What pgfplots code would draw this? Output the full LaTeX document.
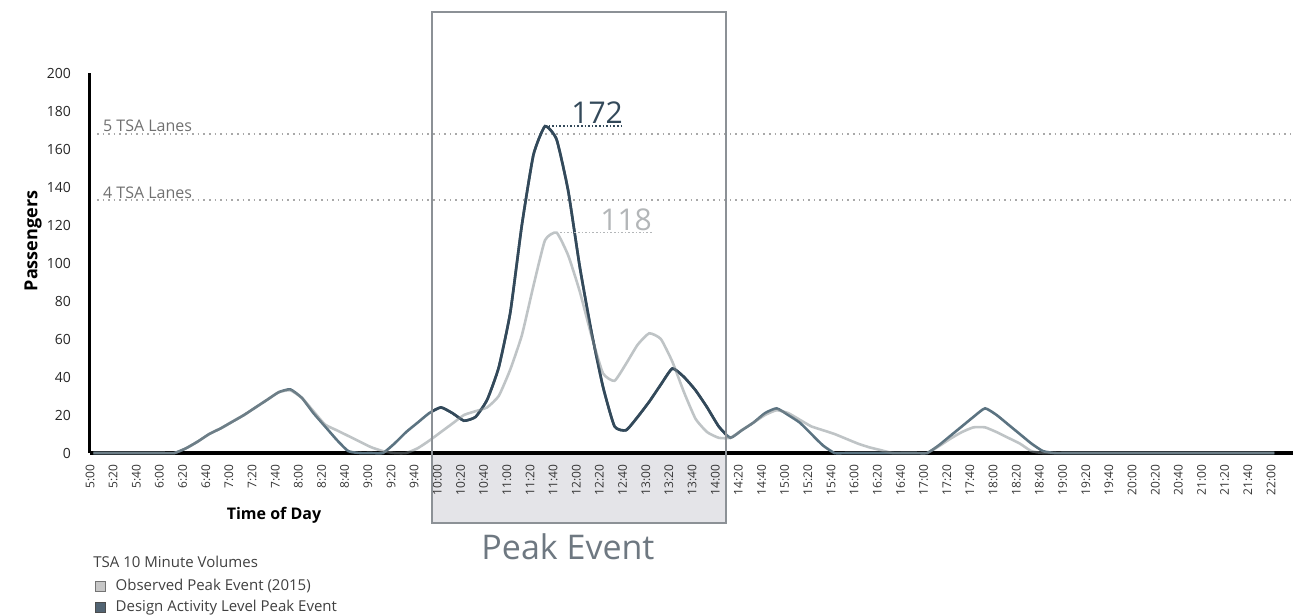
\documentclass[border=0pt]{standalone}
\usepackage{pgfplots}
\usepackage{pgfplotstable}
\pgfplotsset{compat=1.18}
\usepackage{fontspec}
\setmainfont{Open Sans}
\definecolor{darkser}{HTML}{33495A}
\definecolor{darkout}{HTML}{5B7381}
\definecolor{lightser}{HTML}{7F898E}
\definecolor{boxgray}{HTML}{8C9196}
\definecolor{peakfill}{HTML}{E4E4E8}
\definecolor{annlight}{HTML}{B3B6B8}
\definecolor{lanegray}{HTML}{707070}
\definecolor{peaktext}{HTML}{6E7881}

\pgfplotstableread{
i obs des
0 0 0
1 0 0
2 0 0
3 0 0
4 0 0
5 0 0
6 0 0
7 0 0
8 2.5 2.5
9 6 6
10 10 10
11 13 13
12 16.5 16.5
13 20 20
14 24 24
15 28 28
16 32 32
17 33 33.5
18 29 29
19 22 21
20 15 14
21 12 7
22 9 1
23 6 0
24 3 0
25 1 0
26 0 5
27 0 11
28 2.5 16
29 6.5 21
30 11 24
31 15.5 21
32 20 17
33 22 19
34 24 28
35 30 45
36 44 74
37 62 120
38 88 157
39 112 172
40 116 165
41 104 138
42 85 98
43 62 64
44 42 35
45 38 14
46 47 12
47 57 19
48 63 27
49 60 36
50 48 44.5
51 32 40
52 18 33
53 11 24
54 8 14
55 8 8
56 12 12
57 16 16
58 20 21
59 22.5 23.5
60 21 20
61 17.5 16
62 14 10
63 12 4
64 10 0
65 7.5 0
66 5 0
67 3 0
68 1.5 0
69 0 0
70 0 0
71 0 0
72 0 0
73 3.5 4
74 7.5 9
75 11 14
76 13.5 19
77 13.5 23.5
78 11 20
79 8 15
80 5 10
81 1 5
82 0 1
83 0 0
84 0 0
85 0 0
86 0 0
87 0 0
88 0 0
89 0 0
90 0 0
91 0 0
92 0 0
93 0 0
94 0 0
95 0 0
96 0 0
97 0 0
98 0 0
99 0 0
100 0 0
101 0 0
102 0 0
}\volumes

\begin{document}
\begin{tikzpicture}[x=1pt,y=1pt]
\path[use as bounding box] (-45,-81) rectangle (601.5,226.5);
\fill[peakfill] (171,-35) rectangle (318,-1);
\begin{axis}[
  at={(0,0)}, anchor=south west,
  scale only axis, width=601.5pt, height=190pt,
  xmin=-0.3, xmax=103.6, ymin=0, ymax=200,
  clip=false,
  axis x line*=bottom, axis y line*=left,
  x axis line style={line width=2pt, black, -},
  y axis line style={line width=1.5pt, black, -},
  major tick length=0pt,
  tick style={draw=none},
  ytick={0,20,...,200},
  xtick={-0.3,1.7,...,101.7},
  xticklabels={5:00,5:20,5:40,6:00,6:20,6:40,7:00,7:20,7:40,8:00,8:20,8:40,9:00,9:20,9:40,10:00,10:20,10:40,11:00,11:20,11:40,12:00,12:20,12:40,13:00,13:20,13:40,14:00,14:20,14:40,15:00,15:20,15:40,16:00,16:20,16:40,17:00,17:20,17:40,18:00,18:20,18:40,19:00,19:20,19:40,20:00,20:20,20:40,21:00,21:20,21:40,22:00},
  xticklabel style={rotate=90, anchor=east, font=\fontsize{6}{7}\selectfont, text=black!80},
  xticklabel shift=2.5pt,
  yticklabel style={font=\fontsize{7}{8}\selectfont, text=black!85},
  yticklabel shift=6pt,
  /pgf/number format/assume math mode=true,
  legend style={at={(0.004,-0.325)}, anchor=north west, draw=none, fill=none,
    font=\fontsize{7.5}{9}\selectfont, row sep=1.5pt, inner sep=0pt,
    nodes={inner sep=1pt, text=black!75}},
  legend cell align=left,
]
% TSA lane levels
\draw[lanegray!60, dotted, line width=0.8pt] (axis cs:0.3,168) -- (axis cs:103.6,168);
\draw[lanegray!60, dotted, line width=0.8pt] (axis cs:0.3,133) -- (axis cs:103.6,133);
\node[anchor=west, text=lanegray, font=\fontsize{8}{9}\selectfont, inner sep=0pt] at (axis cs:0.8,172) {5 TSA Lanes};
\node[anchor=west, text=lanegray, font=\fontsize{8}{9}\selectfont, inner sep=0pt] at (axis cs:0.8,137) {4 TSA Lanes};

\addplot[darkout, line width=1.3pt, smooth, tension=0.3, forget plot] table[x=i, y=des] {\volumes};
\begin{scope}
\clip (axis cs:29.23,-5) rectangle (axis cs:54.62,215);
\addplot[darkser, line width=1.3pt, smooth, tension=0.3, forget plot] table[x=i, y=des] {\volumes};
\end{scope}
\addplot[lightser, opacity=0.5, line width=1.3pt, smooth, tension=0.3, forget plot] table[x=i, y=obs] {\volumes};

% peak annotations
\draw[darkser, densely dotted, line width=0.8pt] (axis cs:39,172) -- (axis cs:45.6,172);
\node[text=darkser, font=\fontsize{15}{15}\selectfont] at (axis cs:43.5,179) {172};
\draw[annlight, densely dotted, line width=0.8pt] (axis cs:40.3,116) -- (axis cs:48.2,116);
\node[text=annlight, font=\fontsize{15}{15}\selectfont] at (axis cs:46.0,122.6) {118};

% peak event box
\draw[boxgray, line width=0.9pt] (axis cs:29.23,-36.8) rectangle (axis cs:54.62,232.1);

\addlegendimage{legend image code/.code={\path[draw=none, fill=none] (0pt,0pt) -- (9pt,0pt); \draw[fill=black!22, draw=black!55, line width=0.5pt] (0pt,-2.5pt) rectangle (5pt,2.5pt);}}
\addlegendentry{Observed Peak Event (2015)}
\addlegendimage{legend image code/.code={\path[draw=none, fill=none] (0pt,0pt) -- (9pt,0pt); \draw[fill=darkser!85, draw=black!70, line width=0.5pt] (0pt,-2.5pt) rectangle (5pt,2.5pt);}}
\addlegendentry{Design Activity Level Peak Event}
\end{axis}
\node[text=peaktext, font=\fontsize{17}{17}\selectfont] at (239,-47) {Peak Event};
\node[font=\fontsize{8}{9}\selectfont\bfseries] at (92,-31) {Time of Day};
\node[rotate=90, font=\fontsize{9}{10}\selectfont\bfseries] at (-28.5,106) {Passengers};
\node[anchor=west, inner sep=0pt, text=black!75, font=\fontsize{7.5}{9}\selectfont] at (1.5,-54.5) {TSA 10 Minute Volumes};
\end{tikzpicture}
\end{document}
